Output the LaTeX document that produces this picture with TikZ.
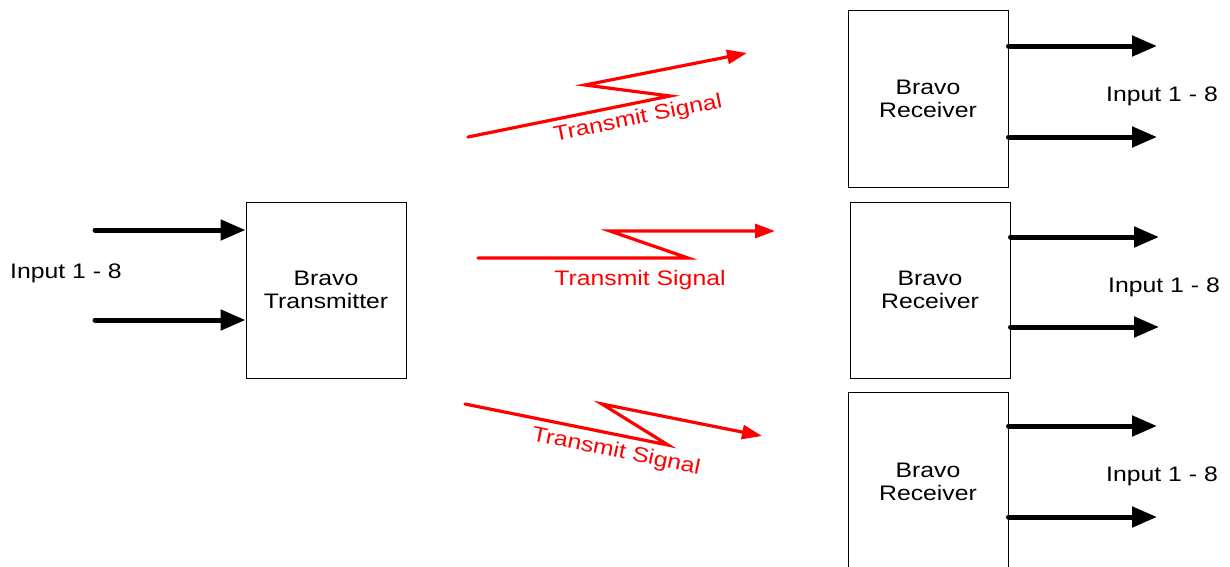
\documentclass[tikz,border=0pt]{standalone}
\usepackage{fontspec}
\setmainfont{Liberation Sans}[FakeStretch=1.18]
\usetikzlibrary{arrows.meta}
\begin{document}
\begin{tikzpicture}[x=1pt,y=-1pt,
  txt/.style={font=\fontsize{21}{23}\selectfont, inner sep=0pt},
  blockbox/.style={draw=black, line width=1pt, minimum width=160pt, inner sep=0pt, align=center, font=\fontsize{21}{23}\selectfont},
  bigarrow/.style={line width=5pt, line cap=round, -{Triangle[length=25pt,width=20pt]}},
  signal/.style={draw=red, line width=3.2pt, line cap=round, line join=miter, -{Triangle[length=20pt,width=14pt]}},
  siglabel/.style={txt, text=red}
]
\useasboundingbox (0,0) rectangle (1230,566);

% blocks
\node[blockbox, minimum height=176pt] (tx) at (326,290) {Bravo\\Transmitter};
\node[blockbox, minimum height=177pt] (rx1) at (928,98.5) {Bravo\\Receiver};
\node[blockbox, minimum height=176pt] (rx2) at (930,290) {Bravo\\Receiver};
\node[blockbox, minimum height=180pt] (rx3) at (928,482) {Bravo\\Receiver};

% input arrows
\coordinate (in1) at (95,230);
\coordinate (in2) at (95,320);
\draw[bigarrow] (in1) -- (in1 -| tx.west);
\draw[bigarrow] (in2) -- (in2 -| tx.west);
\node[txt] (inlabel) at (66,273) {Input 1 - 8};

% output arrows
\coordinate (o1a) at (1157,46);
\coordinate (o1b) at (1157,137);
\coordinate (o2a) at (1159,237);
\coordinate (o2b) at (1159,327);
\coordinate (o3a) at (1157,426);
\coordinate (o3b) at (1157,517);
\draw[bigarrow] (rx1.east |- o1a) -- (o1a);
\draw[bigarrow] (rx1.east |- o1b) -- (o1b);
\draw[bigarrow] (rx2.east |- o2a) -- (o2a);
\draw[bigarrow] (rx2.east |- o2b) -- (o2b);
\draw[bigarrow] (rx3.east |- o3a) -- (o3a);
\draw[bigarrow] (rx3.east |- o3b) -- (o3b);
\node[txt] (out1) at (1162,96) {Input 1 - 8};
\node[txt] (out2) at (1164,287) {Input 1 - 8};
\node[txt] (out3) at (1162,476) {Input 1 - 8};

% transmit signals
\coordinate (s1a) at (468,137);
\coordinate (s1b) at (670,96);
\coordinate (s1c) at (585,85);
\coordinate (s1d) at (747,53);
\draw[signal] (s1a) -- (s1b) -- (s1c) -- (s1d);
\node[siglabel, rotate=11.5] (sl1) at (638,119) {Transmit Signal};

\coordinate (s2a) at (478,258);
\coordinate (s2b) at (688,258);
\coordinate (s2c) at (610,231);
\coordinate (s2d) at (775,231);
\draw[signal] (s2a) -- (s2b) -- (s2c) -- (s2d);
\node[siglabel] (sl2) at (640,280) {Transmit Signal};

\coordinate (s3a) at (465,404);
\coordinate (s3b) at (668,445);
\coordinate (s3c) at (602,404);
\coordinate (s3d) at (762,436);
\draw[signal] (s3a) -- (s3b) -- (s3c) -- (s3d);
\node[siglabel, rotate=-11.5] (sl3) at (616,452) {Transmit Signal};
\end{tikzpicture}
\end{document}
